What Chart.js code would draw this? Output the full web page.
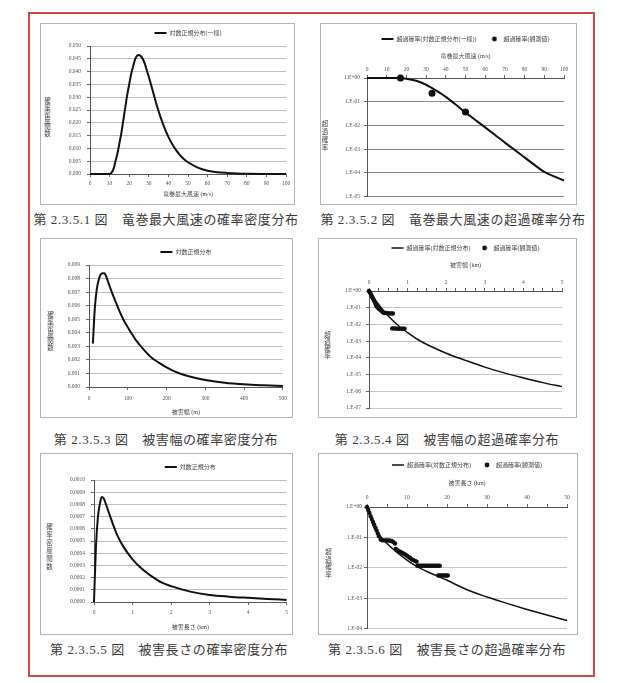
<!DOCTYPE html>
<html>
<head>
<meta charset="utf-8">
<script src="https://cdn.jsdelivr.net/npm/chart.js"></script>
<style>
  body { margin: 0; width: 619px; height: 683px; background: #fff; position: relative; }
  #frame { position: absolute; left: 28px; top: 12px; width: 563px; height: 661px; border: 2px solid #d04848; }
  .box { position: absolute; border: 1px solid #b4b4b4; background: #fff; }
  .box canvas { display: block; }
  .cap { position: absolute; width: 320px; text-align: center; line-height: 18px; font-size: 13px; letter-spacing: 0.6px;
         color: #3a3a3a; white-space: nowrap; font-family: "Liberation Serif", "Noto Sans CJK JP", serif; }
</style>
</head>
<body>
<div id="frame"></div>
<div class="box" style="left:40px;top:23px"><canvas id="c1" width="253" height="180"></canvas></div>
<div class="box" style="left:320px;top:23px"><canvas id="c2" width="255" height="180"></canvas></div>
<div class="box" style="left:40px;top:238px"><canvas id="c3" width="251" height="178"></canvas></div>
<div class="box" style="left:318px;top:238px"><canvas id="c4" width="257" height="178"></canvas></div>
<div class="box" style="left:40px;top:453px"><canvas id="c5" width="251" height="180"></canvas></div>
<div class="box" style="left:318px;top:453px"><canvas id="c6" width="258" height="180"></canvas></div>

<div class="cap" style="left:6px;top:211px">第 2.3.5.1 図　竜巻最大風速の確率密度分布</div>
<div class="cap" style="left:293px;top:211px">第 2.3.5.2 図　竜巻最大風速の超過確率分布</div>
<div class="cap" style="left:6px;top:431px">第 2.3.5.3 図　被害幅の確率密度分布</div>
<div class="cap" style="left:287px;top:431px">第 2.3.5.4 図　被害幅の超過確率分布</div>
<div class="cap" style="left:9px;top:641px">第 2.3.5.5 図　被害長さの確率密度分布</div>
<div class="cap" style="left:287px;top:641px">第 2.3.5.6 図　被害長さの超過確率分布</div>

<script>
// --- 竜巻最大風速 (m/s) : 確率密度
const windSpeed = [0,5,10,11,12,13,14,15,16,17,18,19,20,21,22,23,24,25,26,27,28,29,30,32,34,36,38,40,42,44,46,48,50,55,60,65,70,75,80,90,100];
const windPdf = [0,0,0,0.0005,0.002,0.005,0.008,0.012,0.016,0.021,0.026,0.031,0.035,0.039,0.042,0.0448,0.0462,0.0465,0.046,0.0448,0.043,0.0405,0.038,0.0325,0.027,0.0222,0.018,0.0145,0.0116,0.0092,0.0073,0.0058,0.0046,0.0025,0.0013,0.0007,0.0004,0.0002,0.0001,0.00003,0.00001];

// --- 竜巻最大風速 : 超過確率
const windSpeedFitX = [0,10,15,20,25,30,35,40,45,50,55,60,65,70,75,80,85,90,95,100];
const windExceedFit = [1,1,0.99,0.93,0.76,0.52,0.30,0.16,0.076,0.035,0.017,0.0083,0.004,0.0019,0.00093,0.00045,0.00022,0.00011,0.000072,0.000048];
const windSpeedObs = [17,33,50];
const windExceedObs = [1,0.23,0.037];

// --- 被害幅 (m) : 確率密度
const widthM = [10,15,20,25,30,35,40,45,50,60,70,80,90,100,120,140,160,180,200,225,250,275,300,350,400,450,500];
const widthPdf = [0.0032,0.0058,0.0072,0.0079,0.0083,0.0084,0.0084,0.0081,0.0077,0.0069,0.0062,0.0055,0.0049,0.0044,0.0035,0.0028,0.0022,0.0018,0.00145,0.0011,0.00085,0.00066,0.00052,0.00032,0.0002,0.00013,0.00008];

// --- 被害幅 (km) : 超過確率
const widthKm = [0,0.05,0.1,0.2,0.3,0.4,0.5,0.75,1,1.25,1.5,2,2.5,3,3.5,4,4.5,5];
const widthExceedFit = [1,0.71,0.47,0.22,0.11,0.058,0.032,0.0089,0.0032,0.0013,0.00063,0.00019,0.000071,0.000028,0.0000126,0.0000063,0.0000033,0.0000019];
const widthKmObs = [0,0.02,0.04,0.06,0.08,0.1,0.12,0.14,0.16,0.18,0.2,0.23,0.26,0.29,0.32,0.35,0.38,0.42,0.46,0.5,0.54,0.58,0.62,0.6,0.64,0.68,0.72,0.76,0.8,0.84,0.88,0.92];
const widthExceedObs = [1,0.85,0.7,0.55,0.45,0.37,0.3,0.24,0.19,0.15,0.12,0.1,0.085,0.075,0.065,0.055,0.05,0.048,0.048,0.046,0.046,0.045,0.045,0.0058,0.0058,0.0058,0.0056,0.0056,0.0056,0.0055,0.0055,0.0055];

// --- 被害長さ (km) : 確率密度
const lengthKm = [0,0.05,0.1,0.15,0.2,0.25,0.3,0.4,0.5,0.6,0.75,1,1.25,1.5,1.75,2,2.5,3,3.5,4,4.5,5];
const lengthPdf = [0,0.00045,0.00069,0.0008,0.00086,0.00085,0.00081,0.00072,0.00063,0.00055,0.00046,0.00035,0.00027,0.00021,0.00016,0.00013,0.000085,0.000058,0.000044,0.000034,0.000025,0.000017];

// --- 被害長さ (km) : 超過確率
const lengthFitX = [0,0.5,1,2,3,4,5,7.5,10,12.5,15,20,25,30,35,40,45,50];
const lengthExceedFit = [1,0.63,0.4,0.19,0.12,0.087,0.063,0.032,0.018,0.011,0.0076,0.0039,0.0019,0.0011,0.00068,0.00043,0.00028,0.000186];
const lengthKmObs = [0,0.3,0.6,0.9,1.2,1.5,1.8,2.1,2.4,2.7,3.0,
  3.4,3.8,4.2,4.6,5.0,5.4,5.8,6.2,6.6,7.0,
  7.2,7.6,8.0,8.4,8.8,9.2,9.6,10.0,10.4,10.8,
  11.2,11.6,12.0,12.4,
  12.6,13.0,13.4,13.8,14.2,14.6,15.0,15.4,15.8,16.2,16.6,17.0,17.4,17.8,18.2,
  17.8,18.2,18.6,19.0,19.4,19.8,20.2];
const lengthExceedObs = [1,0.8,0.64,0.5,0.4,0.32,0.26,0.21,0.17,0.135,0.11,
  0.085,0.08,0.08,0.08,0.08,0.079,0.078,0.076,0.07,0.063,
  0.042,0.038,0.035,0.033,0.031,0.029,0.027,0.025,0.023,0.021,
  0.019,0.018,0.017,0.016,
  0.0117,0.0117,0.0117,0.0117,0.0117,0.0117,0.0117,0.0117,0.0117,0.0117,0.0117,0.0117,0.0117,0.0117,0.0117,
  0.0056,0.0056,0.0056,0.0056,0.0056,0.0056,0.0056];

// tick labels
const speedTicks = [0,10,20,30,40,50,60,70,80,90,100];
const windPdfTicks = [0,0.005,0.01,0.015,0.02,0.025,0.03,0.035,0.04,0.045,0.05];
const widthMTicks = [0,100,200,300,400,500];
const widthPdfTicks = [0,0.001,0.002,0.003,0.004,0.005,0.006,0.007,0.008,0.009];
const kmTicks5 = [0,1,2,3,4,5];
const kmMinor5 = [0,0.25,0.5,0.75,1,1.25,1.5,1.75,2,2.25,2.5,2.75,3,3.25,3.5,3.75,4,4.25,4.5,4.75,5];
const lengthPdfTicks = [0,0.0001,0.0002,0.0003,0.0004,0.0005,0.0006,0.0007,0.0008,0.0009,0.001];
const lengthKmTicks = [0,10,20,30,40,50];
const lengthKmMinor = [0,5,10,15,20,25,30,35,40,45,50];
const decades5 = [1e-5,1e-4,1e-3,1e-2,1e-1,1];
const decades7 = [1e-7,1e-6,1e-5,1e-4,1e-3,1e-2,1e-1,1];
const decades4 = [1e-4,1e-3,1e-2,1e-1,1];

Chart.defaults.font.family = '"Liberation Serif", "Noto Sans CJK JP", serif';
Chart.defaults.font.size = 5.5;
Chart.defaults.color = '#555';

// vertical (upright) axis title for the y axis
const verticalTitle = {
  id: 'vtitle',
  afterDraw(chart, args, opts) {
    if (!opts || !opts.text) return;
    const ctx = chart.ctx;
    const chars = Array.from(opts.text);
    const y0 = opts.y - (chars.length - 1) * opts.step / 2;
    ctx.save();
    ctx.font = '6.5px "Noto Sans CJK JP"';
    ctx.fillStyle = '#444';
    ctx.textAlign = 'center';
    ctx.textBaseline = 'middle';
    chars.forEach((c, i) => ctx.fillText(c, opts.x, y0 + i * opts.step));
    ctx.restore();
  }
};
Chart.register(verticalTitle);

// small dot for the legend of the observed series
const dotIcon = document.createElement('canvas');
dotIcon.width = 6; dotIcon.height = 6;
const dctx = dotIcon.getContext('2d');
dctx.fillStyle = '#111';
dctx.beginPath(); dctx.arc(3, 3, 2.4, 0, Math.PI * 2); dctx.fill();

function legendItems(chart) {
  const items = Chart.defaults.plugins.legend.labels.generateLabels(chart);
  items.forEach(it => {
    if (chart.data.datasets[it.datasetIndex].showLine === false) it.pointStyle = dotIcon;
  });
  return items;
}

function pairs(xs, ys) {
  return xs.map((x, i) => ({ x: x, y: ys[i] }));
}

function logLabel(v) {
  const e = Math.round(Math.log10(v));
  return '1.E' + (e < 0 ? '-' : '+') + String(Math.abs(e)).padStart(2, '0');
}

function makeChart(id, o) {
  const datasets = [{
    label: o.fitLabel,
    data: pairs(o.fitX, o.fitY),
    borderColor: '#111',
    borderWidth: o.lineW,
    pointRadius: 0,
    pointStyle: 'line',
    pointBorderWidth: o.lineW,
    pointBorderColor: '#111',
    cubicInterpolationMode: 'monotone',
    fill: false,
    clip: 3
  }];
  if (o.obsX) {
    datasets.push({
      label: o.obsLabel,
      data: pairs(o.obsX, o.obsY),
      showLine: false,
      pointRadius: o.dotR,
      pointStyle: 'circle',
      pointBackgroundColor: '#111',
      pointBorderColor: '#111',
      pointBorderWidth: 0,
      backgroundColor: '#111',
      borderColor: '#111',
      clip: 4
    });
  }
  const top = o.axisTop;
  const xAll = o.xMinor || o.xTicks;
  return new Chart(id, {
    type: 'line',
    data: { datasets: datasets },
    options: {
      responsive: false,
      animation: false,
      devicePixelRatio: 1,
      layout: { padding: o.pad },
      plugins: {
        legend: {
          fullSize: false,
          labels: {
            usePointStyle: true,
            pointStyleWidth: 12,
            padding: o.legPad,
            color: '#444',
            font: { size: 6 },
            generateLabels: legendItems
          }
        },
        tooltip: { enabled: false },
        vtitle: o.vtitle
      },
      scales: {
        x: {
          type: 'linear',
          position: top ? 'top' : 'bottom',
          min: o.xTicks[0],
          max: o.xTicks[o.xTicks.length - 1],
          afterBuildTicks: s => { s.ticks = xAll.map(v => ({ value: v })); },
          afterFit: s => { s.height = o.xH; },
          ticks: {
            autoSkip: false,
            maxRotation: 0,
            padding: o.xTickPad,
            callback: v => (o.xTicks.includes(v) ? String(v) : '')
          },
          grid: { drawOnChartArea: false, color: '#666', tickLength: 3 },
          border: { color: '#555' },
          title: {
            display: true,
            text: o.xTitle,
            color: '#444',
            font: { size: 6 },
            padding: top ? { top: o.titlePad, bottom: 0 } : { top: 0, bottom: o.titlePad }
          }
        },
        y: {
          type: o.logY ? 'logarithmic' : 'linear',
          min: o.yTicks[0],
          max: o.yTicks[o.yTicks.length - 1],
          afterBuildTicks: s => { s.ticks = o.yTicks.map(v => ({ value: v })); },
          afterFit: s => { s.width = o.yW; },
          ticks: { autoSkip: false, padding: o.yTickPad, callback: o.yFmt },
          grid: { color: o.gridColor, tickColor: '#666', tickLength: 3 },
          border: { color: '#555' }
        }
      }
    }
  });
}

makeChart('c1', {
  fitLabel: '対数正規分布(一様)', fitX: windSpeed, fitY: windPdf, lineW: 2,
  xTicks: speedTicks, xTitle: '竜巻最大風速 (m/s)',
  yTicks: windPdfTicks, yFmt: v => v.toFixed(3), gridColor: '#bdbdbd',
  pad: { left: 10, right: 8, top: -9, bottom: 0 }, yW: 39, xH: 30, legPad: 15,
  xTickPad: 3, titlePad: 6.4, yTickPad: 6,
  vtitle: { text: '確率密度関数', x: 6.5, y: 93, step: 6.5 }
});

makeChart('c2', {
  fitLabel: '超過確率(対数正規分布(一様))', fitX: windSpeedFitX, fitY: windExceedFit, lineW: 2,
  obsLabel: '超過確率(観測値)', obsX: windSpeedObs, obsY: windExceedObs, dotR: 3.5,
  axisTop: true, xTicks: speedTicks, xTitle: '竜巻最大風速 (m/s)',
  logY: true, yTicks: decades5, yFmt: v => logLabel(v), gridColor: '#8a8a8a',
  pad: { left: 8, right: 12, top: 0, bottom: 4 }, yW: 38, xH: 26, legPad: 12,
  xTickPad: 2, titlePad: 0.4, yTickPad: 4,
  vtitle: { text: '超過確率', x: 4, y: 112, step: 8 }
});

makeChart('c3', {
  fitLabel: '対数正規分布', fitX: widthM, fitY: widthPdf, lineW: 2,
  xTicks: widthMTicks, xTitle: '被害幅 (m)',
  yTicks: widthPdfTicks, yFmt: v => v.toFixed(3), gridColor: '#bdbdbd',
  pad: { left: 12, right: 8, top: 0, bottom: 0 }, yW: 36, xH: 30, legPad: 10,
  xTickPad: 5, titlePad: 1.4, yTickPad: 6,
  vtitle: { text: '確率密度関数', x: 9.5, y: 92, step: 6.5 }
});

makeChart('c4', {
  fitLabel: '超過確率(対数正規分布)', fitX: widthKm, fitY: widthExceedFit, lineW: 1.5,
  obsLabel: '超過確率(観測値)', obsX: widthKmObs, obsY: widthExceedObs, dotR: 2.2,
  axisTop: true, xTicks: kmTicks5, xMinor: kmMinor5, xTitle: '被害幅 (km)',
  logY: true, yTicks: decades7, yFmt: v => logLabel(v), gridColor: '#c4c4c4',
  pad: { left: 12, right: 14, top: -2, bottom: 9 }, yW: 38, xH: 30, legPad: 8,
  xTickPad: 2, titlePad: 0.4, yTickPad: 5,
  vtitle: { text: '超過確率', x: 8.5, y: 106, step: 7 }
});

makeChart('c5', {
  fitLabel: '対数正規分布', fitX: lengthKm, fitY: lengthPdf, lineW: 2,
  xTicks: kmTicks5, xTitle: '被害長さ (km)',
  yTicks: lengthPdfTicks, yFmt: v => v.toFixed(4), gridColor: '#bdbdbd',
  pad: { left: 11, right: 4, top: -2, bottom: 0 }, yW: 42, xH: 32, legPad: 12,
  xTickPad: 4, titlePad: 3.4, yTickPad: 6,
  vtitle: { text: '確率密度関数', x: 8.5, y: 93, step: 8 }
});

makeChart('c6', {
  fitLabel: '超過確率(対数正規分布)', fitX: lengthFitX, fitY: lengthExceedFit, lineW: 1.5,
  obsLabel: '超過確率(観測値)', obsX: lengthKmObs, obsY: lengthExceedObs, dotR: 2.2,
  axisTop: true, xTicks: lengthKmTicks, xMinor: lengthKmMinor, xTitle: '被害長さ (km)',
  logY: true, yTicks: decades4, yFmt: v => logLabel(v), gridColor: '#c4c4c4',
  pad: { left: 12, right: 10, top: -2, bottom: 5 }, yW: 36, xH: 29, legPad: 10,
  xTickPad: 3, titlePad: 1.4, yTickPad: 2,
  vtitle: { text: '超過確率', x: 9.5, y: 109, step: 7.5 }
});
</script>
</body>
</html>
